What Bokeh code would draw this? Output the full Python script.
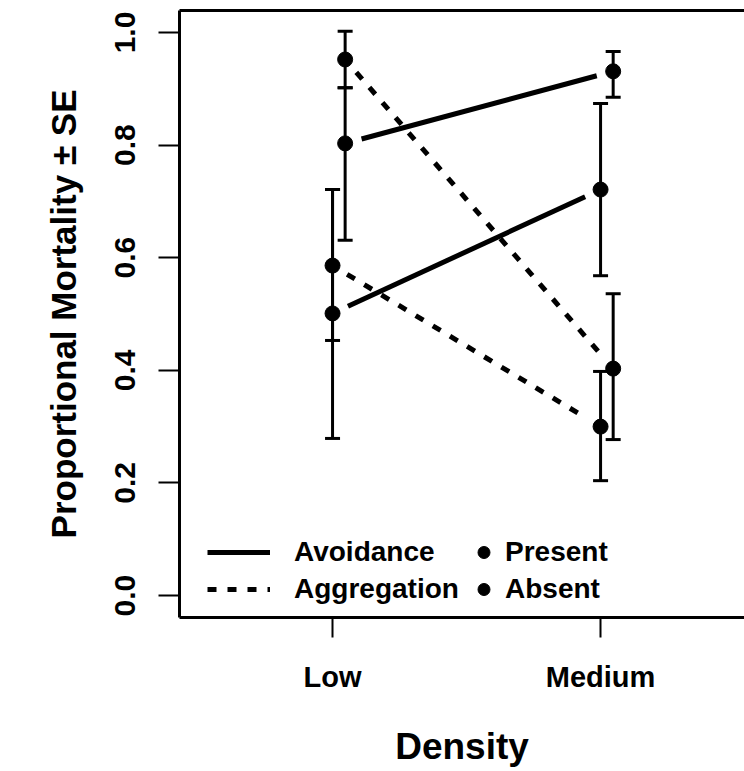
from bokeh.plotting import figure
from bokeh.models import (ColumnDataSource, Range1d, FixedTicker, LinearAxis,
                          Legend, LegendItem, Whisker, TeeHead)
from bokeh.embed import file_html
from bokeh.resources import INLINE

# ---------------- data ----------------
density_labels = ["Low", "Medium"]
density_x = [1, 2]
absent_offset = 0.047

y_ticks = [0.0, 0.2, 0.4, 0.6, 0.8, 1.0]
y_tick_labels = ["0.0", "0.2", "0.4", "0.6", "0.8", "1.0"]

avoid_present_mean = [0.501, 0.721]
avoid_present_lo = [0.279, 0.568]
avoid_present_hi = [0.721, 0.874]

avoid_absent_mean = [0.803, 0.931]
avoid_absent_lo = [0.631, 0.885]
avoid_absent_hi = [0.902, 0.966]

aggr_present_mean = [0.586, 0.300]
aggr_present_lo = [0.453, 0.204]
aggr_present_hi = [0.721, 0.398]

aggr_absent_mean = [0.952, 0.403]
aggr_absent_lo = [0.902, 0.277]
aggr_absent_hi = [1.002, 0.536]

line_labels = ["Avoidance", "Aggregation"]
point_labels = ["Present", "Absent"]

# ---------------- layout ----------------
W, H = 744, 771
B_LEFT, B_RIGHT, B_TOP, B_BOTTOM = 179, 0, 10, 154
X0, X1 = 0.429, 2.537
Y0, Y1 = -0.039, 1.039
FONT = "Liberation Sans"

p = figure(width=W, height=H, output_backend="svg", toolbar_location=None,
           x_range=Range1d(X0, X1), y_range=Range1d(Y0, Y1),
           min_border_left=B_LEFT, min_border_right=B_RIGHT,
           min_border_top=B_TOP, min_border_bottom=B_BOTTOM)
p.grid.visible = False
p.outline_line_color = None
p.background_fill_color = "white"
p.border_fill_color = "white"

px_x = (W - B_LEFT - B_RIGHT) / (X1 - X0)
px_y = (H - B_TOP - B_BOTTOM) / (Y1 - Y0)

# x axis
xa = p.xaxis[0]
xa.ticker = FixedTicker(ticks=density_x)
xa.major_label_overrides = {x: l for x, l in zip(density_x, density_labels)}
xa.axis_line_width = 3
xa.major_tick_line_width = 2
xa.major_tick_out = 20
xa.major_tick_in = 0
xa.minor_tick_line_color = None
xa.major_label_standoff = 23
xa.major_label_text_font = FONT
xa.major_label_text_font_style = "bold"
xa.major_label_text_font_size = "29px"
xa.major_label_text_color = "black"
xa.axis_label = "Density"
xa.axis_label_text_font = FONT
xa.axis_label_text_font_style = "bold"
xa.axis_label_text_font_size = "37px"
xa.axis_label_standoff = 30
xa.axis_label_text_color = "black"

# y axis
ya = p.yaxis[0]
ya.ticker = FixedTicker(ticks=y_ticks)
ya.major_label_overrides = {t: l for t, l in zip(y_ticks, y_tick_labels)}
ya.major_label_orientation = "vertical"
ya.axis_line_width = 3
ya.major_tick_line_width = 2
ya.major_tick_out = 21
ya.major_tick_in = 0
ya.minor_tick_line_color = None
ya.major_label_standoff = 23
ya.major_label_text_font = FONT
ya.major_label_text_font_style = "bold"
ya.major_label_text_font_size = "30px"
ya.major_label_text_color = "black"
ya.axis_label = "Proportional Mortality \u00b1 SE"
ya.axis_label_text_font = FONT
ya.axis_label_text_font_style = "bold"
ya.axis_label_text_font_size = "35px"
ya.axis_label_standoff = 30
ya.axis_label_text_color = "black"

# top border line
top_axis = LinearAxis(ticker=FixedTicker(ticks=[]), axis_line_width=3,
                      major_tick_out=0, major_tick_in=0, minor_tick_out=0,
                      minor_tick_in=0, major_label_standoff=0)
p.add_layout(top_axis, "above")

# ---------------- lines with gaps (type "b") ----------------
GAP = 17


def gapped(xs, ys):
    x0s, y0s, x1s, y1s = [], [], [], []
    for i in range(len(xs) - 1):
        dx = (xs[i + 1] - xs[i]) * px_x
        dy = (ys[i + 1] - ys[i]) * px_y
        L = (dx * dx + dy * dy) ** 0.5
        f = GAP / L
        x0s.append(xs[i] + (xs[i + 1] - xs[i]) * f)
        y0s.append(ys[i] + (ys[i + 1] - ys[i]) * f)
        x1s.append(xs[i + 1] - (xs[i + 1] - xs[i]) * f)
        y1s.append(ys[i + 1] - (ys[i + 1] - ys[i]) * f)
    return x0s, y0s, x1s, y1s


x_present = list(density_x)
x_absent = [x + absent_offset for x in density_x]


def seg_source(pairs):
    d = dict(x0=[], y0=[], x1=[], y1=[])
    for xs, ys in pairs:
        a, b, c, e = gapped(xs, ys)
        d["x0"] += a
        d["y0"] += b
        d["x1"] += c
        d["y1"] += e
    return ColumnDataSource(d)


avoid_src = seg_source([(x_present, avoid_present_mean), (x_absent, avoid_absent_mean)])
aggr_src = seg_source([(x_present, aggr_present_mean), (x_absent, aggr_absent_mean)])

r_avoid = p.segment("x0", "y0", "x1", "y1", source=avoid_src, line_color="black",
                    line_width=5)
r_aggr = p.segment("x0", "y0", "x1", "y1", source=aggr_src, line_color="black",
                   line_width=5, line_dash="9 11")

# ---------------- error bars ----------------
err_src = ColumnDataSource(dict(
    x=x_present + x_absent + x_present + x_absent,
    lo=avoid_present_lo + avoid_absent_lo + aggr_present_lo + aggr_absent_lo,
    hi=avoid_present_hi + avoid_absent_hi + aggr_present_hi + aggr_absent_hi,
))
wh = Whisker(source=err_src, base="x", lower="lo", upper="hi", dimension="height",
             line_color="black", line_width=3,
             upper_head=TeeHead(size=15, line_width=3, line_color="black"),
             lower_head=TeeHead(size=15, line_width=3, line_color="black"))
p.add_layout(wh)

# ---------------- points ----------------
pres_src = ColumnDataSource(dict(x=x_present + x_present,
                                 y=avoid_present_mean + aggr_present_mean))
abs_src = ColumnDataSource(dict(x=x_absent + x_absent,
                                y=avoid_absent_mean + aggr_absent_mean))
r_pres = p.scatter("x", "y", source=pres_src, size=15, color="black")
r_abs = p.scatter("x", "y", source=abs_src, size=15, color="black")

# ---------------- legends ----------------
common = dict(border_line_color=None, background_fill_alpha=0, margin=0, padding=0,
              label_text_font=FONT, label_text_font_size="28px",
              label_text_font_style="bold",
              label_text_color="black", label_height=30, glyph_height=30,
              spacing=5)
leg1 = Legend(items=[LegendItem(label=line_labels[0], renderers=[r_avoid]),
                     LegendItem(label=line_labels[1], renderers=[r_aggr])],
              location=(28, 12), glyph_width=63, label_standoff=24, **common)
leg2 = Legend(items=[LegendItem(label=point_labels[0], renderers=[r_pres]),
                     LegendItem(label=point_labels[1], renderers=[r_abs])],
              location=(288, 12), glyph_width=33, label_standoff=5, **common)
p.add_layout(leg1)
p.add_layout(leg2)

open("out.html", "w").write(file_html(p, INLINE))
